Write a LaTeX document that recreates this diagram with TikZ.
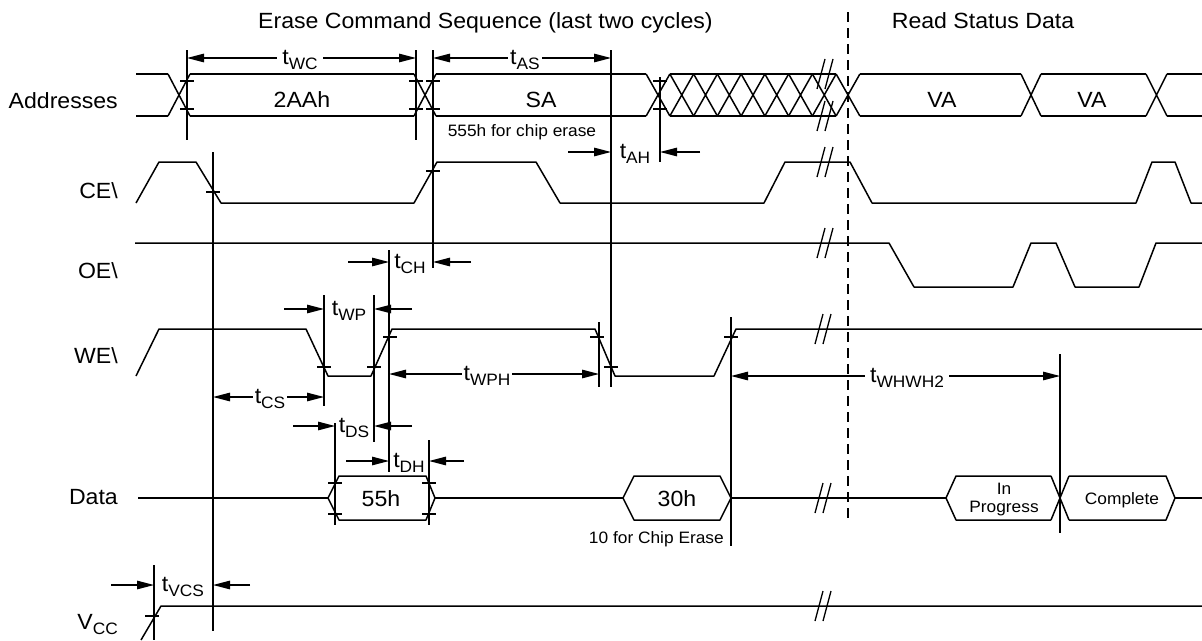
\documentclass[tikz,border=0pt]{standalone}
\usepackage{fontspec}
\setmainfont[FakeStretch=1.05]{Liberation Sans}
\usetikzlibrary{arrows.meta}
\newcommand\bigf{\fontsize{22}{25}\selectfont}
\newcommand\smf{\fontsize{16.5}{19}\selectfont}
\newcommand\tlab[1]{{\bigf t}\raisebox{-5pt}{\smf #1}}
\newcommand\tck[2]{\draw[guide] (#1-7,#2) -- (#1+7,#2);}
\newcommand\brk[2]{\draw[guide] (#1-9,#2+15) -- (#1-1,#2-15); \draw[guide] (#1-1,#2+15) -- (#1+7,#2-15);}
\newcommand\xtr[4]{\draw[sig] (#1,#3) -- (#2,#4) (#1,#4) -- (#2,#3);}
\begin{document}
\begin{tikzpicture}[x=1pt,y=-1pt,
  sig/.style={line width=1.5pt, line join=round},
  guide/.style={line width=1.3pt},
  arr/.style={-{Triangle[length=17pt,width=8.5pt]}, line width=1.3pt},
  darr/.style={{Triangle[length=17pt,width=8.5pt]}-{Triangle[length=17pt,width=8.5pt]}, line width=1.3pt},
  tl/.style={fill=white, inner xsep=5pt, inner ysep=1pt, anchor=base},
  rowlbl/.style={anchor=base east, inner sep=0pt, font=\bigf},
  txt/.style={anchor=base, inner sep=0pt, font=\bigf},
  small/.style={anchor=base, inner sep=0pt, font=\smf}]
\useasboundingbox (0,0) rectangle (1202,640);
\fill[white] (0,0) rectangle (1202,640);

% titles
\node[txt, anchor=base west] (title1) at (258,28) {Erase Command Sequence (last two cycles)};
\node[txt] (title2) at (983,28) {Read Status Data};

% row labels
\node[rowlbl] (laddr) at (118,108) {Addresses};
\node[rowlbl] (lce) at (118,198) {CE\textbackslash};
\node[rowlbl] (loe) at (118,278) {OE\textbackslash};
\node[rowlbl] (lwe) at (118,363) {WE\textbackslash};
\node[rowlbl] (ldata) at (118,504) {Data};
\node[rowlbl] (lvcc) at (118,629) {V\raisebox{-5pt}{\smf CC}};

% dashed separator
\draw[guide, dash pattern=on 10pt off 6pt] (848,12) -- (848,522);

% ---------- Addresses ----------
\foreach \y in {74,116}{
  \draw[sig] (136,\y) -- (168,\y);
  \draw[sig] (190,\y) -- (414,\y);
  \draw[sig] (436,\y) -- (646,\y);
  \draw[sig] (670,\y) -- (836,\y);
  \draw[sig] (860,\y) -- (1021,\y);
  \draw[sig] (1041,\y) -- (1146,\y);
  \draw[sig] (1167,\y) -- (1202,\y);
}
\xtr{168}{190}{74}{116}
\xtr{414}{436}{74}{116}
\foreach \k in {0,...,8}{
  \pgfmathsetmacro\c{658+23.75*\k}
  \draw[sig] (\c-11.875,74) -- (\c+11.875,116) (\c-11.875,116) -- (\c+11.875,74);
}
\xtr{1021}{1041}{74}{116}
\xtr{1146}{1167}{74}{116}
\node[txt] (t2aah) at (302,107) {2AAh};
\node[txt] (tsa) at (541,107) {SA};
\node[txt] (tva1) at (942,107) {VA};
\node[txt] (tva2) at (1092,107) {VA};
\node[small] (t555) at (522,136) {555h for chip erase};
\brk{826}{74}
\brk{826}{116}

% ---------- CE ----------
\draw[sig] (136,203) -- (159,162) -- (196,162) -- (221,203) -- (414,203) -- (437,162) -- (536,162) -- (560,203) -- (764,203) -- (785,162) -- (850,162) -- (872,203) -- (1136,203) -- (1152,162) -- (1175,162) -- (1191,203) -- (1202,203);
\brk{826}{162}

% ---------- OE ----------
\draw[sig] (135,243) -- (889,243) -- (914,287) -- (1013,287) -- (1031,243) -- (1056,243) -- (1075,287) -- (1139,287) -- (1156,243) -- (1202,243);
\brk{826}{243}

% ---------- WE ----------
\draw[sig] (136,376) -- (159,329) -- (306,329) -- (328,376) -- (371,376) -- (392,329) -- (595,329) -- (615,376) -- (714,376) -- (736,329) -- (1202,329);
\brk{824}{329}

% ---------- Data ----------
\draw[sig] (138,498) -- (328,498);
\draw[sig] (328,498) -- (339,476) -- (426,476) -- (435,498) -- (426,520) -- (339,520) -- cycle;
\draw[sig] (435,498) -- (623,498);
\draw[sig] (623,498) -- (634,476) -- (720,476) -- (731,498) -- (720,520) -- (634,520) -- cycle;
\draw[sig] (731,498) -- (946,498);
\draw[sig] (1051,476) -- (956,476) -- (946,498) -- (956,520) -- (1051,520);
\xtr{1051}{1069}{476}{520}
\draw[sig] (1069,476) -- (1166,476) -- (1175,498) -- (1166,520) -- (1069,520);
\draw[sig] (1175,498) -- (1202,498);
\node[txt] (t55h) at (381,506) {55h};
\node[txt] (t30h) at (677,506) {30h};
\node[small] (tin) at (1004,494) {In};
\node[small] (tprog) at (1004,512) {Progress};
\node[small] (tcompl) at (1122,504) {Complete};
\node[small, anchor=base east] (t10) at (724,543) {10 for Chip Erase};
\brk{824}{498}

% ---------- VCC ----------
\draw[sig] (141,640) -- (161,606) -- (1202,606);
\brk{824}{606}

% ---------- guide lines ----------
\draw[guide] (187,50) -- (187,140);
\draw[guide] (416,50) -- (416,140);
\draw[guide] (433,50) -- (433,268);
\draw[guide] (611,50) -- (611,387);
\draw[guide] (660,77) -- (660,162);
\draw[guide] (213,152) -- (213,631);
\draw[guide] (324,295) -- (324,406);
\draw[guide] (374,295) -- (374,442);
\draw[guide] (389,250) -- (389,472);
\draw[guide] (335,423) -- (335,525);
\draw[guide] (429,440) -- (429,525);
\draw[guide] (599,322) -- (599,387);
\draw[guide] (731,317) -- (731,546);
\draw[guide] (1060,354) -- (1060,533);
\draw[guide] (154,565) -- (154,640);

% ticks
\tck{187}{81} \tck{187}{109}
\tck{416}{81} \tck{416}{109}
\tck{433}{81} \tck{433}{109}
\tck{660}{81} \tck{660}{109}
\tck{213}{192} \tck{433}{171}
\tck{324}{367} \tck{374}{367} \tck{390}{337}
\tck{597}{337} \tck{611}{367} \tck{731}{337}
\tck{335}{483} \tck{335}{514} \tck{429}{483} \tck{429}{514}
\tck{152}{616}

% ---------- timing arrows ----------
\draw[darr] (187,58) -- (416,58);
\node[tl] (lwc) at (300,64) {\tlab{WC}};
\draw[darr] (433,58) -- (611,58);
\node[tl, inner xsep=2pt] (las) at (525,64) {\tlab{AS}};

\draw[arr] (568,152) -- (611,152);
\draw[arr] (700,152) -- (660,152);
\node[tl, inner xsep=0pt] (lah) at (635,158) {\tlab{AH}};

\draw[arr] (348,262) -- (389,262);
\draw[arr] (471,262) -- (433,262);
\node[tl, inner xsep=0pt] (lch) at (410,268) {\tlab{CH}};

\draw[arr] (284,309) -- (324,309);
\draw[arr] (412,309) -- (374,309);
\node[tl, inner xsep=0pt] (lwp) at (349,315) {\tlab{WP}};

\draw[darr] (213,397) -- (324,397);
\node[tl, inner xsep=2pt] (lcs) at (270,403) {\tlab{CS}};

\draw[darr] (389,374) -- (599,374);
\node[tl, inner xsep=2pt] (lwph) at (487,380) {\tlab{WPH}};

\draw[arr] (293,426) -- (335,426);
\draw[arr] (412,426) -- (374,426);
\node[tl, inner xsep=0pt] (lds) at (354,432) {\tlab{DS}};

\draw[arr] (346,461) -- (389,461);
\draw[arr] (464,461) -- (429,461);
\node[tl, inner xsep=0pt] (ldh) at (409,467) {\tlab{DH}};

\draw[darr] (731,376) -- (1060,376);
\node[tl] (lwhwh) at (907,382) {\tlab{WHWH2}};

\draw[arr] (111,585) -- (154,585);
\draw[arr] (250,585) -- (213,585);
\node[tl, inner xsep=0pt] (lvcs) at (183,591) {\tlab{VCS}};
\end{tikzpicture}
\end{document}
